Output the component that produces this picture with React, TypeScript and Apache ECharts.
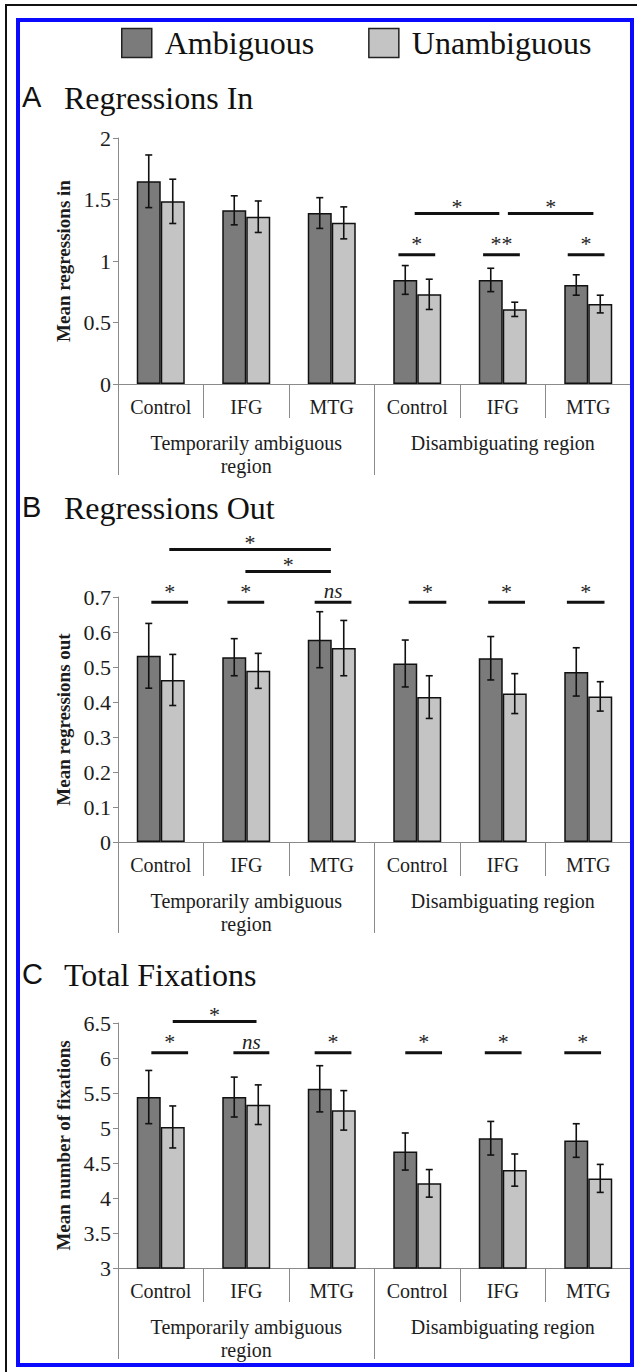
import React, { useEffect, useRef } from 'react';
import * as echarts from 'echarts';

// ---------- data ----------
const categories = ['Control', 'IFG', 'MTG', 'Control', 'IFG', 'MTG'];
const regionLabels = ['Temporarily ambiguous\nregion', 'Disambiguating region'];
const legendNames = ['Ambiguous', 'Unambiguous'];

// A: Regressions In
const inAmbiguous = [1.648, 1.412, 1.39, 0.846, 0.846, 0.805];
const inAmbiguousErr = [0.214, 0.118, 0.125, 0.117, 0.095, 0.083];
const inUnambiguous = [1.485, 1.36, 1.31, 0.729, 0.607, 0.65];
const inUnambiguousErr = [0.18, 0.128, 0.13, 0.123, 0.058, 0.072];
// significance: [start offset, end offset (category units from first category), y, label]
const inSig: [number, number, number, string][] = [
  [2.78, 3.21, 1.05, '*'],
  [3.77, 4.2, 1.05, '**'],
  [4.76, 5.19, 1.05, '*'],
  [2.97, 3.96, 1.387, '*'],
  [4.06, 5.06, 1.387, '*'],
];

// B: Regressions Out
const outAmbiguous = [0.532, 0.528, 0.578, 0.51, 0.525, 0.486];
const outAmbiguousErr = [0.0925, 0.053, 0.08, 0.067, 0.062, 0.069];
const outUnambiguous = [0.463, 0.489, 0.554, 0.414, 0.424, 0.416];
const outUnambiguousErr = [0.073, 0.05, 0.079, 0.061, 0.057, 0.042];
const outSig: [number, number, number, string][] = [
  [-0.11, 0.32, 0.685, '*'],
  [0.78, 1.21, 0.685, '*'],
  [1.8, 2.23, 0.685, 'ns'],
  [2.9, 3.34, 0.685, '*'],
  [3.83, 4.26, 0.685, '*'],
  [4.75, 5.19, 0.685, '*'],
  [0.1, 1.99, 0.836, '*'],
  [0.99, 1.99, 0.773, '*'],
];

// C: Total Fixations
const fixAmbiguous = [5.442, 5.442, 5.56, 4.664, 4.854, 4.821];
const fixAmbiguousErr = [0.38, 0.285, 0.33, 0.265, 0.24, 0.24];
const fixUnambiguous = [5.015, 5.333, 5.252, 4.209, 4.399, 4.28];
const fixUnambiguousErr = [0.3, 0.283, 0.282, 0.197, 0.23, 0.2];
const fixSig: [number, number, number, string][] = [
  [-0.11, 0.32, 6.076, '*'],
  [0.85, 1.27, 6.076, 'ns'],
  [1.8, 2.23, 6.076, '*'],
  [2.86, 3.29, 6.076, '*'],
  [3.79, 4.22, 6.076, '*'],
  [4.72, 5.15, 6.076, '*'],
  [0.14, 1.12, 6.52, '*'],
];

const yTicksA = { min: 0, max: 2, interval: 0.5 };
const yTicksB = { min: 0, max: 0.7, interval: 0.1 };
const yTicksC = { min: 3, max: 6.5, interval: 0.5 };

// ---------- styles ----------
const SERIF = '"Liberation Serif", "Times New Roman", Times, serif';
const SANS = '"Liberation Sans", Arial, Helvetica, sans-serif';
const GRAY = '#8a8a8a';
const TEXT = '#1c1c1c';
const DARK = '#7b7b7b';
const LIGHT = '#c4c4c4';
const BAR_W = 24;

const panels = [
  {
    letter: 'A', title: 'Regressions In', yName: 'Mean regressions in', ticks: yTicksA,
    amb: inAmbiguous, ambErr: inAmbiguousErr, un: inUnambiguous, unErr: inUnambiguousErr, sig: inSig,
    top: 138, height: 246, titleY: 98,
  },
  {
    letter: 'B', title: 'Regressions Out', yName: 'Mean regressions out', ticks: yTicksB,
    amb: outAmbiguous, ambErr: outAmbiguousErr, un: outUnambiguous, unErr: outUnambiguousErr, sig: outSig,
    top: 597, height: 245, titleY: 508,
  },
  {
    letter: 'C', title: 'Total Fixations', yName: 'Mean number of fixations', ticks: yTicksC,
    amb: fixAmbiguous, ambErr: fixAmbiguousErr, un: fixUnambiguous, unErr: fixUnambiguousErr, sig: fixSig,
    top: 1023, height: 245, titleY: 975,
  },
];

function buildOption() {
  const grid: any[] = [];
  const xAxis: any[] = [];
  const yAxis: any[] = [];
  const series: any[] = [];
  const graphic: any[] = [];

  panels.forEach((p, g) => {
    grid.push({ left: 118, right: 6, top: p.top, height: p.height, containLabel: false });
    xAxis.push({
      gridIndex: g, type: 'category', data: categories, position: 'bottom', boundaryGap: true,
      axisLine: { show: true, lineStyle: { color: GRAY, width: 1 } },
      axisTick: { show: true, length: 34, interval: 0, alignWithLabel: false, lineStyle: { color: GRAY, width: 1 } },
      axisLabel: { interval: 0, margin: 13, fontSize: 20, fontFamily: SERIF, color: TEXT },
      splitLine: { show: false },
    });
    xAxis.push({
      gridIndex: g, type: 'category', data: regionLabels, position: 'bottom', boundaryGap: true,
      axisLine: { show: false },
      axisTick: { show: true, length: 91, interval: 0, alignWithLabel: false, lineStyle: { color: GRAY, width: 1 } },
      axisLabel: { interval: 0, margin: 47, fontSize: 20, lineHeight: 23, fontFamily: SERIF, color: TEXT, verticalAlign: 'top' },
      splitLine: { show: false },
    });
    yAxis.push({
      gridIndex: g, type: 'value', min: p.ticks.min, max: p.ticks.max, interval: p.ticks.interval,
      axisLine: { show: true, lineStyle: { color: GRAY, width: 1 } },
      axisTick: { show: true, length: 5, lineStyle: { color: GRAY, width: 1 } },
      splitLine: { show: false },
      axisLabel: { fontSize: 22, fontFamily: SERIF, color: TEXT, margin: 7 },
      name: p.yName, nameLocation: 'middle', nameGap: 41,
      nameTextStyle: { fontSize: 19, fontWeight: 'bold', fontFamily: SERIF, color: TEXT },
    });

    const barCommon = {
      type: 'bar', xAxisIndex: 2 * g, yAxisIndex: g, barWidth: BAR_W, barGap: '0%', silent: true,
    };
    series.push({
      ...barCommon, name: legendNames[0], data: p.amb,
      itemStyle: { color: DARK, borderColor: '#111', borderWidth: 1.5 },
    });
    series.push({
      ...barCommon, name: legendNames[1], data: p.un,
      itemStyle: { color: LIGHT, borderColor: '#111', borderWidth: 1.5 },
    });

    const errSeries = (vals: number[], errs: number[], side: number) => ({
      type: 'custom', xAxisIndex: 2 * g, yAxisIndex: g, z: 5, silent: true,
      data: vals.map((v, i) => [i, v, errs[i]]),
      encode: { x: 0, y: 1 },
      renderItem: (params: any, api: any) => {
        const i = api.value(0);
        const v = api.value(1);
        const e = api.value(2);
        const top = api.coord([i, v + e]);
        const bot = api.coord([i, v - e]);
        const x = top[0] + (side * BAR_W) / 2;
        const st = { stroke: '#111', lineWidth: 1.6 };
        return {
          type: 'group',
          children: [
            { type: 'line', shape: { x1: x, y1: top[1], x2: x, y2: bot[1] }, style: st },
            { type: 'line', shape: { x1: x - 3.5, y1: top[1], x2: x + 3.5, y2: top[1] }, style: st },
            { type: 'line', shape: { x1: x - 3.5, y1: bot[1], x2: x + 3.5, y2: bot[1] }, style: st },
          ],
        };
      },
    });
    series.push(errSeries(p.amb, p.ambErr, -1));
    series.push(errSeries(p.un, p.unErr, 1));

    const sig = p.sig;
    series.push({
      type: 'custom', xAxisIndex: 2 * g, yAxisIndex: g, z: 6, silent: true,
      data: sig.map((d) => [0, d[2]]),
      encode: { x: 0, y: 1 },
      renderItem: (params: any, api: any) => {
        const d = sig[params.dataIndex];
        const base = api.coord([0, d[2]]);
        const bw = api.size([1, 0])[0];
        const x1 = base[0] + d[0] * bw;
        const x2 = base[0] + d[1] * bw;
        const y = base[1];
        const label = d[3];
        const isNs = label === 'ns';
        const isShort = d[1] - d[0] < 0.6;
        const fs = isNs ? 21 : 22;
        const gap = isNs ? 9 : isShort ? 14 : 10;
        const ty = isNs ? y - gap - 0.1 * fs : y - gap + 0.13 * fs;
        return {
          type: 'group',
          children: [
            { type: 'line', shape: { x1, y1: y, x2, y2: y }, style: { stroke: '#111', lineWidth: 3 } },
            {
              type: 'text', x: (x1 + x2) / 2, y: ty,
              style: {
                text: label, fontSize: fs, fontFamily: SERIF, fontStyle: isNs ? 'italic' : 'normal',
                fill: '#222', align: 'center', verticalAlign: 'middle',
              },
            },
          ],
        };
      },
    });

    graphic.push({
      type: 'text', left: 22, top: p.titleY - 16, silent: true,
      style: { text: p.letter, fontSize: 29, fontFamily: SANS, fill: '#111' },
    });
    graphic.push({
      type: 'text', x: 64, y: p.titleY, silent: true,
      style: { text: p.title, fontSize: 32, fontFamily: SERIF, fill: '#111', verticalAlign: 'middle', align: 'left' },
    });
  });

  graphic.push({
    type: 'rect', silent: true, z: 100,
    shape: { x: 18, y: 20, width: 614, height: 1345 },
    style: { fill: 'none', stroke: '#0a0aff', lineWidth: 4 },
  });
  graphic.push({
    type: 'line', silent: true, z: 100,
    shape: { x1: 6, y1: 5, x2: 6, y2: 1372 },
    style: { stroke: '#111', lineWidth: 2 },
  });
  graphic.push({
    type: 'line', silent: true, z: 100,
    shape: { x1: 5, y1: 5, x2: 637, y2: 5 },
    style: { stroke: '#111', lineWidth: 2 },
  });

  return {
    animation: false,
    backgroundColor: '#ffffff',
    legend: {
      data: legendNames, left: 121, top: 27, padding: 0, icon: 'rect',
      itemWidth: 30, itemHeight: 29, itemGap: 54, selectedMode: false,
      itemStyle: { borderColor: '#222', borderWidth: 1.5 },
      textStyle: { fontSize: 32, fontFamily: SERIF, color: '#111', padding: [0, 0, 6, 8] },
    },
    grid, xAxis, yAxis, series, graphic,
  };
}

export default function App() {
  const ref = useRef<HTMLDivElement>(null);
  useEffect(() => {
    if (!ref.current) return;
    const chart = echarts.init(ref.current, undefined, { renderer: 'svg' });
    chart.setOption(buildOption() as any);
    return () => chart.dispose();
  }, []);
  return (
    <div
      ref={ref}
      style={{ position: 'absolute', left: 0, top: 0, width: 637, height: 1372, background: '#fff' }}
    />
  );
}
